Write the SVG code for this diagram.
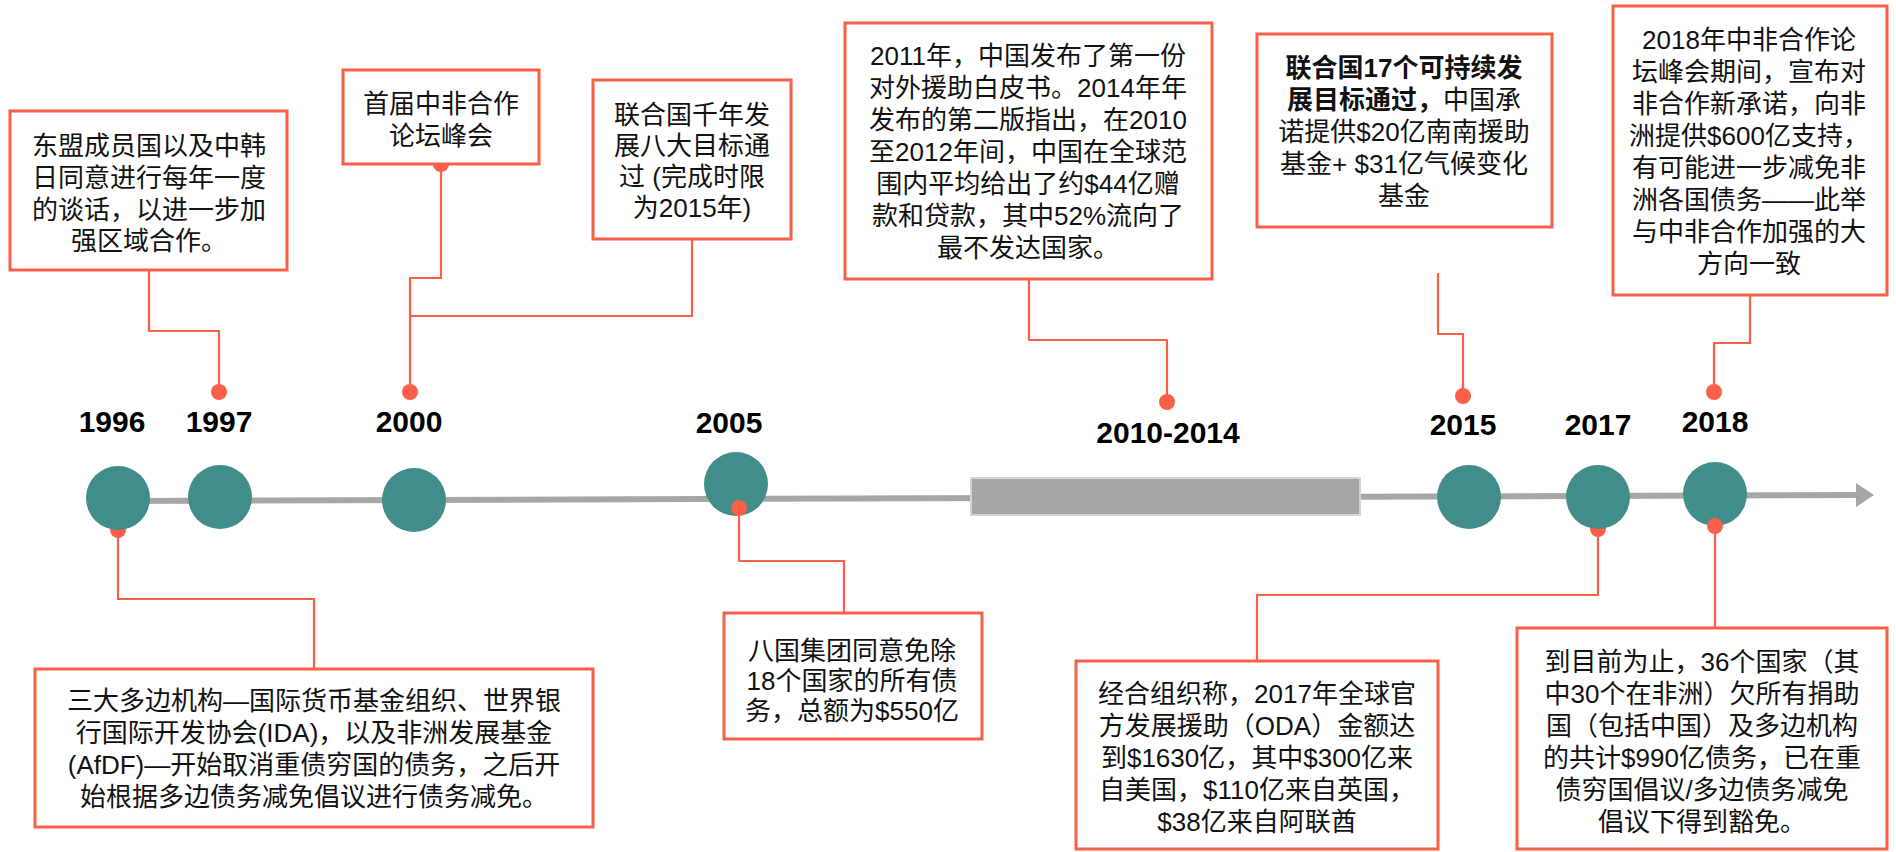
<svg xmlns="http://www.w3.org/2000/svg" width="1896" height="852" viewBox="0 0 1896 852">
<defs>
<style>
.box{fill:#fff;stroke:#fa5f48;stroke-width:3}
.ln{fill:none;stroke:#fa5f48;stroke-width:2.2}
.dot{fill:#fa5f48}
.yr{font-family:"Liberation Sans","Noto Sans CJK SC",sans-serif;font-weight:bold;font-size:30px;fill:#000;text-anchor:middle}
.t{font-family:"Liberation Sans","Noto Sans CJK SC",sans-serif;font-size:26px;fill:#111;text-anchor:middle}
.b{font-weight:bold}
.node{fill:#408d89}
</style>
<marker id="arr" markerWidth="4" markerHeight="4" refX="0" refY="2" orient="auto" markerUnits="strokeWidth">
<path d="M0,0 L3,2 L0,4 Z" fill="#a6a6a6"/>
</marker>
</defs>
<rect width="1896" height="852" fill="#fff"/>

<g id="timeline">
<line x1="118" y1="501" x2="1856" y2="495" stroke="#a6a6a6" stroke-width="6" marker-end="url(#arr)"/>
<rect x="971" y="478" width="389" height="37" fill="#a6a6a6" stroke="#d4d4d4" stroke-width="2"/>
</g>

<g id="connectors">
<polyline class="ln" points="149,270 149,331 219,331 219,392"/>
<polyline class="ln" points="441,164 441,278 410,278 410,392"/>
<polyline class="ln" points="692,239 692,316 410,316"/>
<polyline class="ln" points="1029,279 1029,340 1167,340 1167,402"/>
<polyline class="ln" points="1438,273 1438,334 1463,334 1463,396"/>
<polyline class="ln" points="1750,295 1750,343 1714,343 1714,392"/>
<polyline class="ln" points="118,530 118,599 314,599 314,669"/>
<polyline class="ln" points="739,508 739,561 844,561 844,613"/>
<polyline class="ln" points="1598,529 1598,595 1257,595 1257,661"/>
<polyline class="ln" points="1715,526 1715,628"/>
<circle class="dot" cx="219" cy="392" r="8"/>
<circle class="dot" cx="410" cy="392" r="8"/>
<circle class="dot" cx="441" cy="164" r="8"/>
<circle class="dot" cx="1167" cy="402" r="8"/>
<circle class="dot" cx="1463" cy="396" r="8"/>
<circle class="dot" cx="1714" cy="392" r="8"/>
<circle class="dot" cx="118" cy="530" r="8"/>
<circle class="dot" cx="1598" cy="529" r="8"/>
</g>

<g id="y1996"><circle class="node" cx="118" cy="498" r="32"/><text class="yr" x="112" y="432">1996</text></g>
<g id="y1997"><circle class="node" cx="220" cy="497" r="32"/><text class="yr" x="219" y="432">1997</text></g>
<g id="y2000"><circle class="node" cx="414" cy="500" r="32"/><text class="yr" x="409" y="432">2000</text></g>
<g id="y2005"><circle class="node" cx="736" cy="484" r="32"/><circle class="dot" cx="739" cy="508" r="8"/><text class="yr" x="729" y="433">2005</text></g>
<g id="y2010"><text class="yr" x="1168" y="443">2010-2014</text></g>
<g id="y2015"><circle class="node" cx="1469" cy="497" r="32"/><text class="yr" x="1463" y="435">2015</text></g>
<g id="y2017"><circle class="node" cx="1598" cy="497" r="32"/><text class="yr" x="1598" y="435">2017</text></g>
<g id="y2018"><circle class="node" cx="1715" cy="494" r="32"/><circle class="dot" cx="1715" cy="526" r="8"/><text class="yr" x="1715" y="432">2018</text></g>

<g id="boxA"><rect class="box" x="10" y="111" width="277" height="159"/>
<text class="t"><tspan x="149" y="155">东盟成员国以及中韩</tspan><tspan x="149" y="187">日同意进行每年一度</tspan><tspan x="149" y="219">的谈话，以进一步加</tspan><tspan x="149" y="250">强区域合作。</tspan></text></g>

<g id="boxB"><rect class="box" x="343" y="70" width="196" height="94"/>
<text class="t"><tspan x="441" y="113">首届中非合作</tspan><tspan x="441" y="145">论坛峰会</tspan></text></g>

<g id="boxC"><rect class="box" x="593" y="80" width="198" height="159"/>
<text class="t"><tspan x="692" y="124">联合国千年发</tspan><tspan x="692" y="155">展八大目标通</tspan><tspan x="692" y="186">过 (完成时限</tspan><tspan x="692" y="217">为2015年)</tspan></text></g>

<g id="boxD"><rect class="box" x="845" y="23" width="367" height="256"/>
<text class="t"><tspan x="1028" y="65">2011年，中国发布了第一份</tspan><tspan x="1028" y="97">对外援助白皮书。2014年年</tspan><tspan x="1028" y="129">发布的第二版指出，在2010</tspan><tspan x="1028" y="161">至2012年间，中国在全球范</tspan><tspan x="1028" y="193">围内平均给出了约$44亿赠</tspan><tspan x="1028" y="225">款和贷款，其中52%流向了</tspan><tspan x="1028" y="257">最不发达国家。</tspan></text></g>

<g id="boxI"><rect class="box" x="1257" y="34" width="295" height="193"/>
<text class="t"><tspan x="1404" y="77" class="b">联合国17个可持续发</tspan><tspan x="1404" y="109"><tspan class="b">展目标通过，</tspan>中国承</tspan><tspan x="1404" y="141">诺提供$20亿南南援助</tspan><tspan x="1404" y="173">基金+ $31亿气候变化</tspan><tspan x="1404" y="205">基金</tspan></text></g>

<g id="boxJ"><rect class="box" x="1613" y="6" width="274" height="289"/>
<text class="t"><tspan x="1749" y="49">2018年中非合作论</tspan><tspan x="1749" y="81">坛峰会期间，宣布对</tspan><tspan x="1749" y="113">非合作新承诺，向非</tspan><tspan x="1749" y="145">洲提供$600亿支持，</tspan><tspan x="1749" y="177">有可能进一步减免非</tspan><tspan x="1749" y="209">洲各国债务——此举</tspan><tspan x="1749" y="241">与中非合作加强的大</tspan><tspan x="1749" y="273">方向一致</tspan></text></g>

<g id="boxF"><rect class="box" x="35" y="669" width="558" height="158"/>
<text class="t"><tspan x="314" y="710">三大多边机构—国际货币基金组织、世界银</tspan><tspan x="314" y="742">行国际开发协会(IDA)，以及非洲发展基金</tspan><tspan x="314" y="774">(AfDF)—开始取消重债穷国的债务，之后开</tspan><tspan x="314" y="806">始根据多边债务减免倡议进行债务减免。</tspan></text></g>

<g id="boxE"><rect class="box" x="724" y="613" width="258" height="126"/>
<text class="t"><tspan x="852" y="660">八国集团同意免除</tspan><tspan x="852" y="690">18个国家的所有债</tspan><tspan x="852" y="720">务，总额为$550亿</tspan></text></g>

<g id="boxG"><rect class="box" x="1076" y="661" width="362" height="188"/>
<text class="t"><tspan x="1257" y="703">经合组织称，2017年全球官</tspan><tspan x="1257" y="735">方发展援助（ODA）金额达</tspan><tspan x="1257" y="767">到$1630亿，其中$300亿来</tspan><tspan x="1257" y="799">自美国，$110亿来自英国，</tspan><tspan x="1257" y="831">$38亿来自阿联酋</tspan></text></g>

<g id="boxH"><rect class="box" x="1517" y="628" width="370" height="221"/>
<text class="t"><tspan x="1702" y="671">到目前为止，36个国家（其</tspan><tspan x="1702" y="703">中30个在非洲）欠所有捐助</tspan><tspan x="1702" y="735">国（包括中国）及多边机构</tspan><tspan x="1702" y="767">的共计$990亿债务，已在重</tspan><tspan x="1702" y="799">债穷国倡议/多边债务减免</tspan><tspan x="1702" y="831">倡议下得到豁免。</tspan></text></g>
</svg>
